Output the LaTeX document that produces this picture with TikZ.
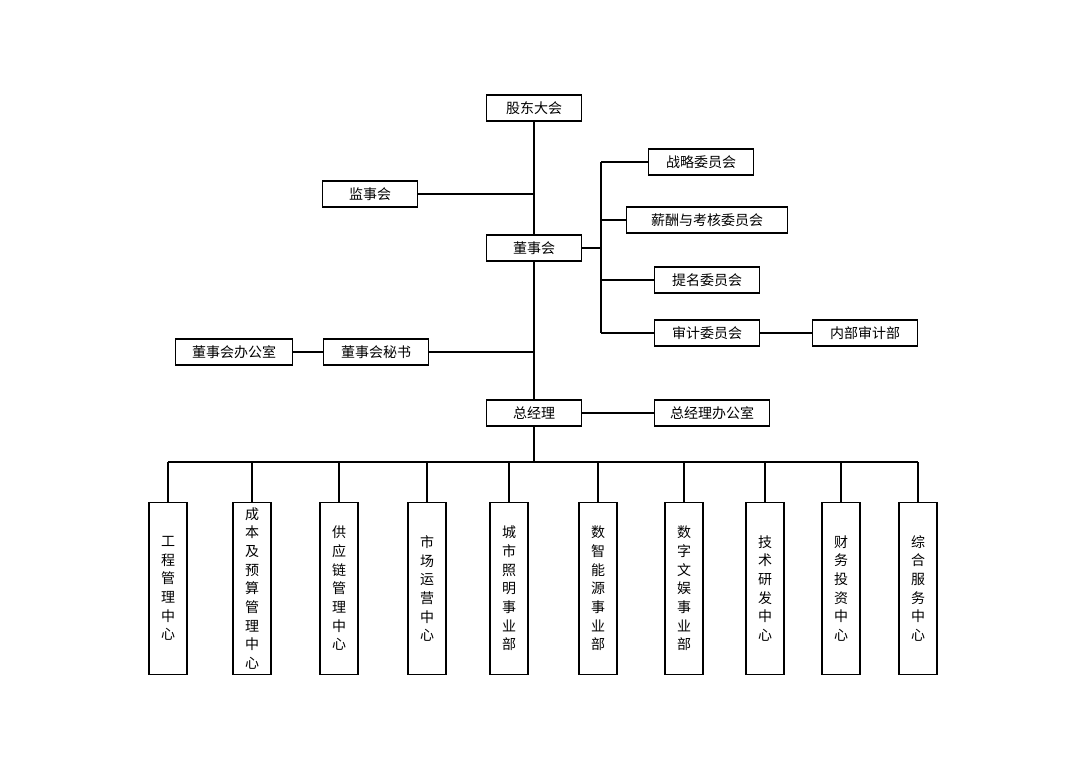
\documentclass[tikz,border=0pt]{standalone}
\usepackage{fontspec}
\setmainfont{Noto Sans CJK SC}
\usetikzlibrary{positioning}
\begin{document}
\begin{tikzpicture}[x=0.75pt,y=-0.75pt,
  Box/.style={rectangle,draw=black,thick,inner sep=0pt,minimum height=19.5pt,font=\fontsize{10.5}{12}\selectfont},
  VBox/.style={rectangle,draw=black,thick,inner sep=0pt,minimum width=28.5pt,minimum height=129pt,align=center,font=\fontsize{10.5}{14}\selectfont},
  ]
  \useasboundingbox (0,0) rectangle (1080,764);
  %top
  \node[Box,minimum width=71pt] (Gd) at (534,108) {股东大会};
  \node[Box,minimum width=71pt] (Js) at (370,194) {监事会};
  \node[Box,minimum width=71pt] (Ds) at (534,248) {董事会};
  \node[Box,minimum width=79pt] (Zl) at (701,162) {战略委员会};
  \node[Box,minimum width=121pt] (Xc) at (707,220) {薪酬与考核委员会};
  \node[Box,minimum width=79pt] (Tm) at (707,280) {提名委员会};
  \node[Box,minimum width=79pt] (Sj) at (707,333) {审计委员会};
  \node[Box,minimum width=79pt] (Nb) at (865,333) {内部审计部};
  \node[Box,minimum width=88pt] (Bg) at (234,352) {董事会办公室};
  \node[Box,minimum width=79pt] (Ms) at (376,352) {董事会秘书};
  \node[Box,minimum width=71pt] (Zj) at (534,413) {总经理};
  \node[Box,minimum width=86pt] (Zb) at (712,413) {总经理办公室};
  \coordinate (Bus) at (534,462);
  \coordinate (Br) at (601,248);
  %spine
  \draw[thick] (Gd) -- (Ds) -- (Zj) -- (Bus);
  \draw[thick] (Js) -- (Js-|Gd);
  \draw[thick] (Ms) -- (Ms-|Gd);
  \draw[thick] (Bg) -- (Ms);
  \draw[thick] (Zj) -- (Zb);
  \draw[thick] (Ds) -- (Br);
  \draw[thick] (Br|-Zl) -- (Br|-Sj);
  \foreach \n in {Zl,Xc,Tm,Sj} \draw[thick] (Br|-\n) -- (\n);
  \draw[thick] (Sj) -- (Nb);
  %bottom
  \draw[thick] (168,462) -- (918,462);
  \foreach \x/\t [count=\i] in {168/工\\程\\管\\理\\中\\心, 252/成\\本\\及\\预\\算\\管\\理\\中\\心,
    339/供\\应\\链\\管\\理\\中\\心, 427/市\\场\\运\\营\\中\\心, 509/城\\市\\照\\明\\事\\业\\部,
    598/数\\智\\能\\源\\事\\业\\部, 684/数\\字\\文\\娱\\事\\业\\部, 765/技\\术\\研\\发\\中\\心,
    841/财\\务\\投\\资\\中\\心, 918/综\\合\\服\\务\\中\\心}
  {
    \node[VBox] (U\i) at (\x,588.5) {\t};
    \draw[thick] (\x,462) -- (U\i);
  }
\end{tikzpicture}
\end{document}
